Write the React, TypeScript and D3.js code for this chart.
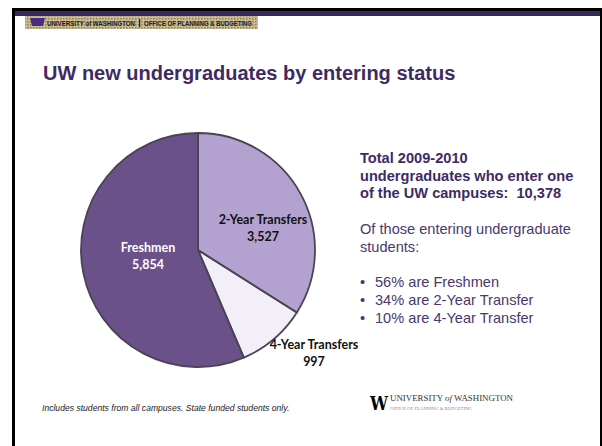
import React from "react";
import * as d3 from "d3";

const categories = ["2-Year Transfers", "4-Year Transfers", "Freshmen"];
const values = [3527, 997, 5854];
const valueLabels = ["3,527", "997", "5,854"];
const colors = ["#b3a2cf", "#f3eff9", "#6a5189"];
const labelColors = ["#111111", "#111111", "#ffffff"];
const bullets = ["56% are Freshmen", "34% are 2-Year Transfer", "10% are 4-Year Transfer"];

const W = 602;
const H = 446;

export default function App() {
  const cx = 198;
  const cy = 250;
  const r = 117;
  const pie = d3.pie<number>().sort(null).startAngle(0).endAngle(2 * Math.PI);
  const arcs = pie(values);
  const arc = d3.arc<d3.PieArcDatum<number>>().innerRadius(0).outerRadius(r);
  const labelPos: [number, number][] = [
    [65, -26],
    [116, 99],
    [-50, 1.5],
  ];
  const purple = "#3d2b62";
  const purple2 = "#47386e";
  return (
    <svg
      width={W}
      height={H}
      style={{ position: "absolute", left: 0, top: 0, background: "#fff" }}
      fontFamily="Liberation Sans, Arial, sans-serif"
    >
      <defs>
        <filter id="edge" x="-10%" y="-10%" width="120%" height="120%">
          <feGaussianBlur stdDeviation="0.6" />
        </filter>
        <pattern id="dots" width="3" height="3" patternUnits="userSpaceOnUse">
          <rect width="3" height="3" fill="#c9bc93" />
          <rect width="1.5" height="1.5" fill="#8f8060" />
        </pattern>
      </defs>
      <rect x={0} y={0} width={W} height={H} fill="#fff" />
      <rect x={12} y={8} width={590} height={3} fill="#000" />
      <rect x={12} y={11} width={590} height={5} fill="#3a2a5c" />
      <rect x={12} y={8} width={3} height={H} fill="#000" />
      <rect x={600} y={8} width={2} height={H} fill="#000" />
      <rect x={25} y={16} width={233} height={13} fill="url(#dots)" />
      <path d="M30,18 L45,18 L43,26 L32,26 Z" fill="#4b2a84" />
      <text x={47} y={26} fontSize={6.5} fontWeight="bold" fill="#222" textLength={88} lengthAdjust="spacingAndGlyphs">
        UNIVERSITY of WASHINGTON
      </text>
      <rect x={139} y={19} width={1.2} height={8} fill="#222" />
      <text x={144} y={26} fontSize={6.5} fontWeight="bold" fill="#222" textLength={108} lengthAdjust="spacingAndGlyphs">
        OFFICE OF PLANNING &amp; BUDGETING
      </text>
      <text x={43} y={80} fontSize={20} fontWeight="bold" fill={purple}>
        UW new undergraduates by entering status
      </text>
      <g transform={`translate(${cx},${cy})`}>
        {arcs.map((a, i) => (
          <path key={"s" + i} d={arc(a) || ""} fill={colors[i]} />
        ))}
        {arcs.map((a, i) => (
          <path
            key={"e" + i}
            d={arc(a) || ""}
            fill="none"
            stroke="#4a4452"
            strokeWidth={1.8}
            strokeLinejoin="round"
            filter="url(#edge)"
          />
        ))}
        {arcs.map((a, i) => (
          <text
            key={"l" + i}
            x={labelPos[i][0]}
            y={labelPos[i][1]}
            textAnchor="middle"
            fontFamily="Lato, Open Sans, sans-serif"
            fontWeight="bold"
            fontSize={12.5}
            fill={labelColors[i]}
          >
            <tspan x={labelPos[i][0]} dy={0}>{categories[i]}</tspan>
            <tspan x={labelPos[i][0]} dy={17}>{valueLabels[i]}</tspan>
          </text>
        ))}
      </g>
      <g fontSize={14.6} fill={purple}>
        <text x={360} y={163} fontWeight="bold">Total 2009-2010</text>
        <text x={360} y={181} fontWeight="bold">undergraduates who enter one</text>
        <text x={360} y={198} fontWeight="bold">{"of the UW campuses:\u00a0 10,378"}</text>
        <text x={360} y={234} fill={purple2}>Of those entering undergraduate</text>
        <text x={360} y={252} fill={purple2}>students:</text>
        {bullets.map((b, i) => (
          <g key={"b" + i}>
            <text x={360} y={287 + i * 18} fill={purple2}>•</text>
            <text x={375} y={287 + i * 18} fill={purple2}>{b}</text>
          </g>
        ))}
      </g>
      <text x={42} y={411} fontSize={8.6} fontStyle="italic" fill="#222">
        Includes students from all campuses. State funded students only.
      </text>
      <text x={370} y={410} fontSize={19} fontWeight="bold" fontFamily="DejaVu Serif, serif" fill="#000" textLength={18} lengthAdjust="spacingAndGlyphs">
        W
      </text>
      <text x={390} y={401} fontSize={7.5} fontFamily="Liberation Serif, serif" fill="#333" textLength={123} lengthAdjust="spacingAndGlyphs">
        UNIVERSITY <tspan fontStyle="italic">of</tspan> WASHINGTON
      </text>
      <text x={390} y={410} fontSize={4.5} fontFamily="Liberation Serif, serif" fill="#888" textLength={82} lengthAdjust="spacingAndGlyphs">
        OFFICE OF PLANNING &amp; BUDGETING
      </text>
    </svg>
  );
}
